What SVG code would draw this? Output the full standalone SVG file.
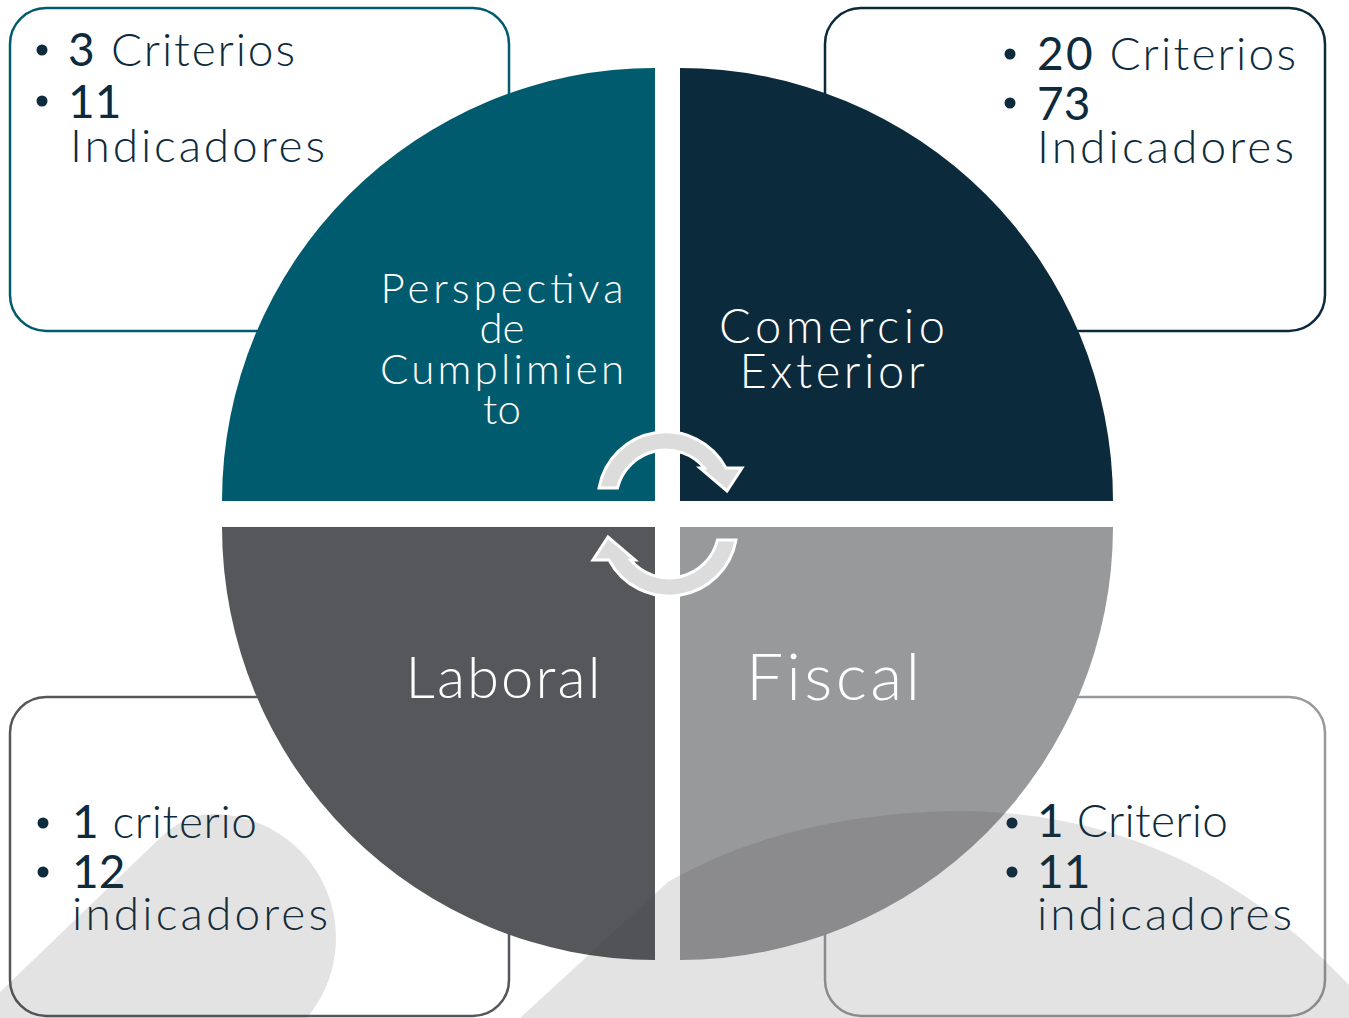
<svg xmlns="http://www.w3.org/2000/svg" width="1349" height="1018" viewBox="0 0 1349 1018">
<style>
.box{fill:none;stroke-width:2.5}
.bt{font-family:Lato,"Liberation Sans",sans-serif;font-weight:300;font-size:46px;fill:#0d2b3d}
.num{font-weight:400}
.lbl{font-family:Lato,"Liberation Sans",sans-serif;font-weight:300;fill:#ffffff;text-anchor:middle}
.dot{fill:#0d2b3d}
.arr{fill:#dcdcdc;stroke:#ffffff;stroke-width:3;stroke-linejoin:miter}
.wm{fill:#404040;fill-opacity:0.145}
</style>
<rect width="1349" height="1018" fill="#ffffff"/>

<g id="box-perspectiva">
<rect class="box" x="10" y="8" width="499" height="323" rx="36" stroke="#005b6e"/>
<circle class="dot" cx="42" cy="50" r="5.5"/>
<text class="bt" x="68" y="66" textLength="227"><tspan class="num">3</tspan> Criterios</text>
<circle class="dot" cx="42" cy="101" r="5.5"/>
<text class="bt num" x="68" y="118">11</text>
<text class="bt" x="70" y="162" textLength="255">Indicadores</text>
</g>

<g id="box-comercio">
<rect class="box" x="825" y="8" width="500" height="323" rx="36" stroke="#0b2a3b"/>
<circle class="dot" cx="1010" cy="54" r="5.5"/>
<text class="bt" x="1037" y="70" textLength="259"><tspan class="num">20</tspan> Criterios</text>
<circle class="dot" cx="1010" cy="103" r="5.5"/>
<text class="bt num" x="1037" y="120">73</text>
<text class="bt" x="1037" y="163" textLength="257">Indicadores</text>
</g>

<g id="box-laboral">
<rect class="box" x="10" y="697" width="499" height="319" rx="36" stroke="#56575b"/>
<circle class="dot" cx="43" cy="823" r="5.5"/>
<text class="bt" x="72" y="838" textLength="185"><tspan class="num">1</tspan> criterio</text>
<circle class="dot" cx="43" cy="872" r="5.5"/>
<text class="bt num" x="72" y="888">12</text>
<text class="bt" x="72" y="930" textLength="256">indicadores</text>
</g>

<g id="box-fiscal">
<rect class="box" x="825" y="697" width="500" height="319" rx="36" stroke="#98999b"/>
<circle class="dot" cx="1012" cy="823" r="5.5"/>
<text class="bt" x="1037" y="837" textLength="191"><tspan class="num">1</tspan> Criterio</text>
<circle class="dot" cx="1012" cy="872" r="5.5"/>
<text class="bt num" x="1037" y="888">11</text>
<text class="bt" x="1037" y="930" textLength="255">indicadores</text>
</g>

<g id="q-perspectiva">
<path d="M655 501 L222 501 A433 433 0 0 1 655 68 Z" fill="#005b6e"/>
<text class="lbl" font-size="42" x="502" y="303" textLength="243">Perspectiva</text>
<text class="lbl" font-size="42" x="502" y="343">de</text>
<text class="lbl" font-size="42" x="502" y="384" textLength="244">Cumplimien</text>
<text class="lbl" font-size="42" x="502" y="424">to</text>
</g>

<g id="q-comercio">
<path d="M680 501 L680 68 A433 433 0 0 1 1113 501 Z" fill="#0b2a3b"/>
<text class="lbl" font-size="47" x="832" y="343" textLength="226">Comercio</text>
<text class="lbl" font-size="47" x="832" y="388" textLength="185">Exterior</text>
</g>

<g id="q-laboral">
<path d="M655 527 L655 960 A433 433 0 0 1 222 527 Z" fill="#56575b"/>
<text class="lbl" font-size="58" x="503" y="698" textLength="195">Laboral</text>
</g>

<g id="q-fiscal">
<path d="M680 527 L1113 527 A433 433 0 0 1 680 960 Z" fill="#98999b"/>
<text class="lbl" font-size="66" x="833" y="700" textLength="174">Fiscal</text>
</g>

<g id="connectors">
<path id="arrow-top" class="arr" d="M599 488 A68 68 0 0 1 726 468 L742 468 L727 491 L700 468 L704.4 468 A50 50 0 0 0 617.5 488 Z"/>
<path id="arrow-bottom" class="arr" transform="rotate(180 667.5 514)" d="M599 488 A68 68 0 0 1 726 468 L742 468 L727 491 L700 468 L704.4 468 A50 50 0 0 0 617.5 488 Z"/>
</g>

<path class="wm" d="M0 992 L158 840 C175 823 193 814 212 814 A124 124 0 0 1 306.7 1018 L0 1018 Z"/>
<path class="wm" d="M520 1018 L668 882 C740 840 840 812 960 811 C1130 812 1255 885 1349 985 L1349 1018 Z"/>
</svg>
